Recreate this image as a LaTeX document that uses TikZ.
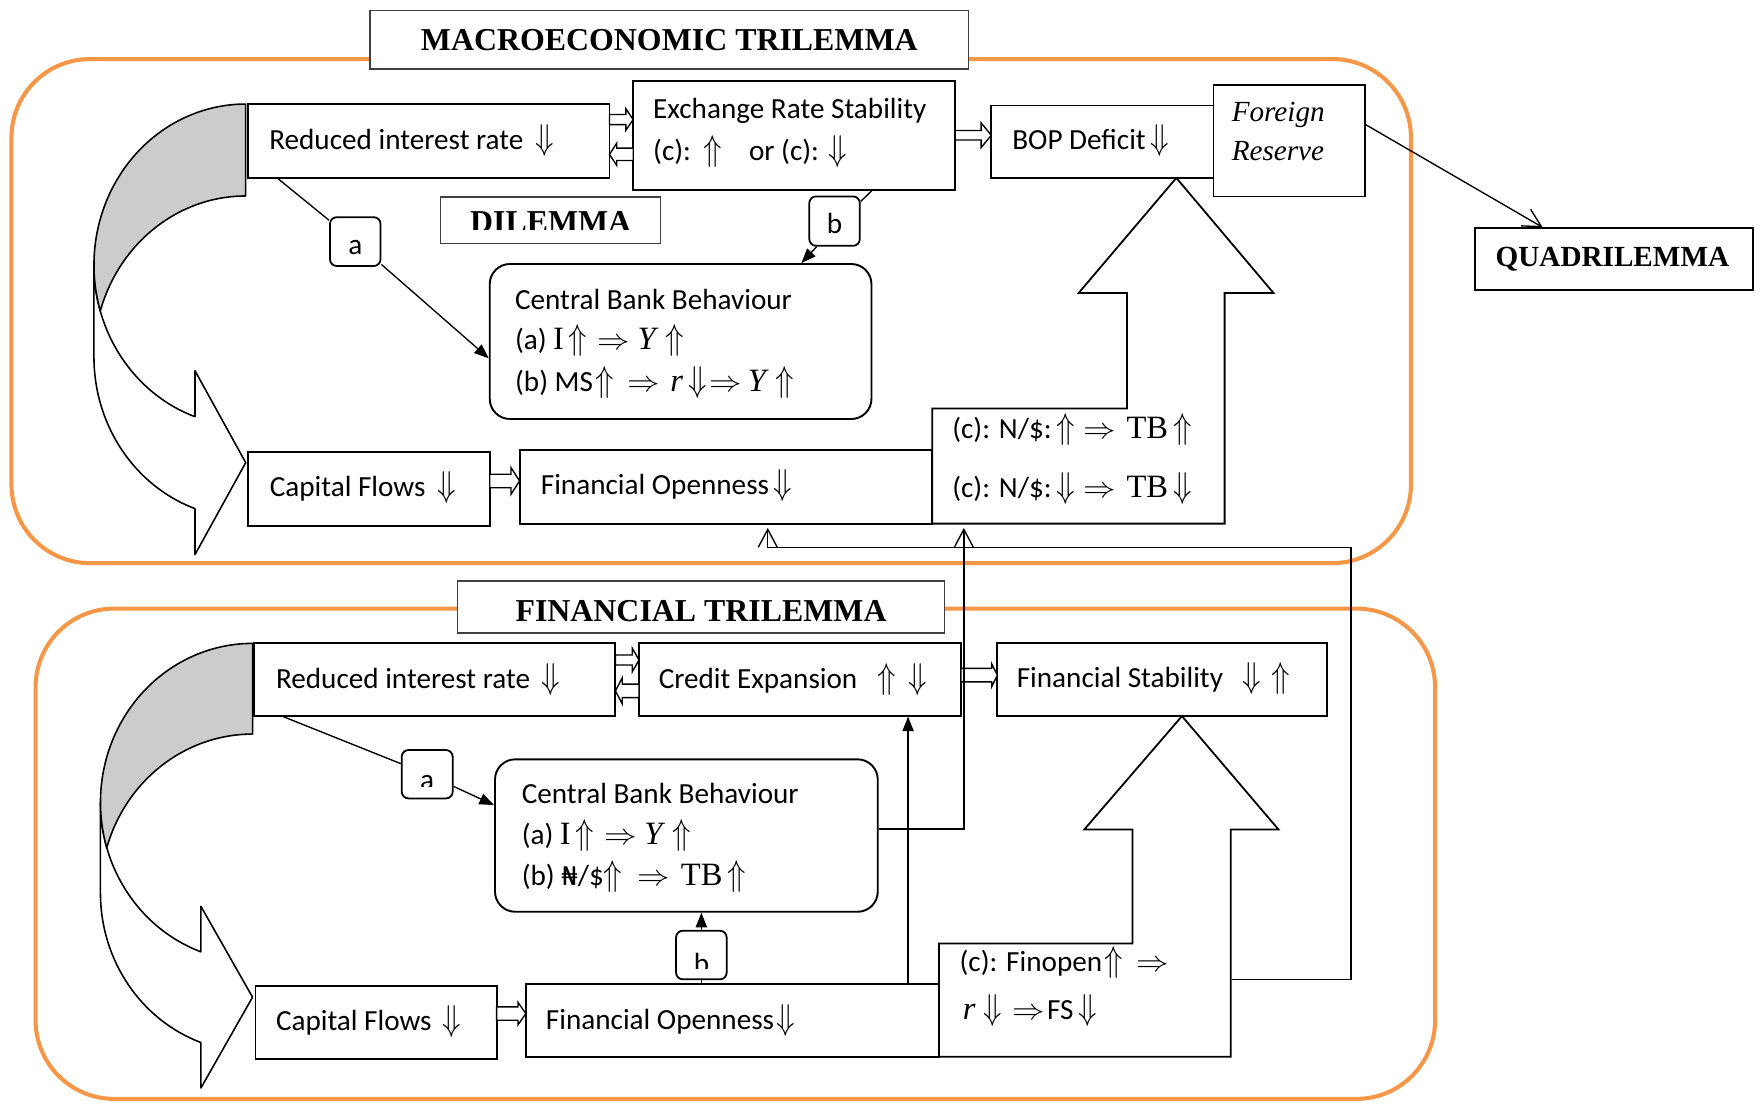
\RequirePackage{fix-cm}
\documentclass[tikz,border=0pt]{standalone}
\usepackage{fontspec}
\setmainfont{Carlito}
\newfontfamily\tnr{Liberation Serif}
\newfontfamily\djv{DejaVu Sans}[Scale=0.88]
\usetikzlibrary{arrows.meta,calc}
\definecolor{frameorange}{HTML}{F79646}
\definecolor{titlegray}{HTML}{404040}
\definecolor{ribgray}{HTML}{CCCCCC}
\newcommand\ttimes[1]{{\fontsize{14.5}{17}\selectfont\tnr #1}}
\newcommand\ttimesi[1]{{\fontsize{14.5}{17}\selectfont\tnr\itshape #1}}
\newcommand\Ua{{\fontsize{10}{12}\selectfont\scalebox{1.35}[1.6]{$\Uparrow$}}}
\newcommand\Da{{\fontsize{10}{12}\selectfont\scalebox{1.35}[1.6]{$\Downarrow$}}}
\newcommand\Ra{{\fontsize{10}{12}\selectfont\scalebox{1.45}[1.3]{$\Rightarrow$}}}
\newcommand\boxnode[6][]{%
  \pgfmathsetmacro\bxW{(#5-#3)*0.5}%
  \pgfmathsetmacro\bxH{(#6-#4)*0.5}%
  \pgfmathsetmacro\bxX{(#3+#5)/2}%
  \pgfmathsetmacro\bxY{(#4+#6)/2}%
  \node[bxs, minimum width=\bxW pt, minimum height=\bxH pt, #1] (#2) at (\bxX,\bxY) {};%
}
\newcommand\barR[6]{%
  \draw[blk] (#1,{#3-#4}) -- ({#2-#6},{#3-#4}) -- ({#2-#6},{#3-#5}) -- (#2,#3) -- ({#2-#6},{#3+#5}) -- ({#2-#6},{#3+#4}) -- (#1,{#3+#4}) -- cycle;}
\newcommand\barL[6]{%
  \draw[blk] (#2,{#3-#4}) -- ({#1+#6},{#3-#4}) -- ({#1+#6},{#3-#5}) -- (#1,#3) -- ({#1+#6},{#3+#5}) -- ({#1+#6},{#3+#4}) -- (#2,{#3+#4}) -- cycle;}
\newcommand\ribbon[7]{%
  \pgfmathsetmacro\rbL{#1-#3}%
  \pgfmathsetmacro\rbA{#2+#4}%
  \pgfmathsetmacro\rbB{#2+#4+#5}%
  \pgfmathsetmacro\rbG{acos(#6/#3)}%
  \pgfmathsetmacro\rbE{180-\rbG}%
  \pgfmathsetmacro\rbAl{asin(#5/(2*#4))}%
  \pgfmathsetmacro\rbX{#1-#6}%
  \pgfmathsetmacro\rbIn{\rbA+#4*sin(\rbG)}%
  \pgfmathsetmacro\rbOut{\rbB+#4*sin(\rbG)}%
  \pgfmathsetmacro\rbM{(\rbIn+\rbOut)/2}%
  \pgfmathsetmacro\rbP{\rbIn-#7}%
  \pgfmathsetmacro\rbQ{\rbOut+#7}%
  \pgfmathsetmacro\rbS{180-\rbAl}%
  \pgfmathsetmacro\rbT{180+\rbAl}%
  \draw[rib, fill=white] (\rbL,\rbA) arc[start angle=180, end angle=\rbE, x radius=#3, y radius=#4]
    -- (\rbX,\rbP) -- (#1,\rbM) -- (\rbX,\rbQ) -- (\rbX,\rbOut)
    arc[start angle=\rbE, end angle=180, x radius=#3, y radius=#4] -- cycle;
  \draw[rib, fill=ribgray] (#1,#2) arc[start angle=270, end angle=\rbS, x radius=#3, y radius=#4]
    arc[start angle=\rbT, end angle=270, x radius=#3, y radius=#4] -- cycle;
}
\tikzset{
  bxs/.style={draw=black, line width=0.85pt, fill=white, inner sep=0pt, rectangle},
  ttlbox/.style={draw=titlegray, line width=0.7pt},
  lbl/.style={line width=0.8pt, rounded corners=3pt},
  rbx/.style={rounded corners=9pt},
  frbox/.style={line width=0.6pt},
  txt/.style={inner sep=0pt, anchor=base west, font=\fontsize{13}{15.6}\selectfont},
  ttl/.style={inner sep=0pt, anchor=base, font=\fontsize{14.2}{17}\selectfont\tnr\bfseries},
  conn/.style={draw=black, line width=0.6pt},
  tri/.style={-{Triangle[length=6.5pt,width=5pt]}},
  barb/.style={-{Straight Barb[length=8pt,width=8.5pt]}},
  shp/.style={draw=black, line width=0.8pt, fill=white, line join=miter},
  blk/.style={draw=black, line width=0.6pt, fill=white, line join=miter},
  orframe/.style={draw=frameorange, line width=1.8pt, rounded corners=35pt},
  rib/.style={draw=black, line width=0.7pt, line join=round},
}
\begin{document}
\begin{tikzpicture}[x=0.5pt, y=-0.5pt]
\useasboundingbox (0,0) rectangle (1568,983);
% frames
\draw[orframe] (10.2,52.6) rectangle (1257,501.7);
\draw[orframe] (31.7,542.2) rectangle (1278.5,979);
% titles
\boxnode[ttlbox]{TM}{329.5}{9.5}{863}{61.5}
\node[ttl] (tTM) at (596.3,45.2) {MACROECONOMIC TRILEMMA};
\boxnode[ttlbox]{TF}{407.6}{517.4}{841.6}{563.7}
\node[ttl] (tTF) at (624.6,553.3) {FINANCIAL TRILEMMA};
% curved arrows
\ribbon{218.9}{92.7}{135.2}{143.4}{81.9}{45.2}{41}
\ribbon{225}{573.2}{135.5}{141.6}{80.8}{46}{40.5}
% big up arrows with (c) boxes
\draw[shp] (830.5,364) -- (1004,364) -- (1004,261) -- (961,261) -- (1048,158.5) -- (1134.5,261) -- (1091,261) -- (1091,466.5) -- (830.5,466.5) -- cycle;
\draw[shp] (836.5,840.5) -- (1009,840.5) -- (1009,739) -- (966,739) -- (1053,638) -- (1139,739) -- (1096.5,739) -- (1096.5,941.5) -- (836.5,941.5) -- cycle;
% top boxes
\boxnode{R1}{221.3}{93}{543}{158.3}
\boxnode{E1}{564.1}{71.9}{850.9}{169}
\boxnode{B1}{883.1}{94}{1081.2}{158.3}
\boxnode[frbox]{FR}{1081.2}{75.7}{1216}{175.2}
\boxnode{Q}{1314}{203.4}{1562}{258.4}
\boxnode[ttlbox]{DL}{392.6}{175.5}{588.6}{217}
\boxnode[lbl]{a1}{294}{193.5}{339}{237}
\boxnode[lbl]{b1}{721}{175}{766}{219}
\boxnode[rbx]{CB1}{436.3}{235.2}{776.4}{373.3}
\boxnode{CF1}{221.3}{402.4}{436.3}{468.6}
\boxnode{FO1}{462.9}{400.9}{830.5}{466.5}
\boxnode[draw=none,fill=none]{c1}{830.5}{364}{1091}{466.5}
% bottom boxes
\boxnode{R2}{226.6}{573.2}{548.3}{637.6}
\boxnode{CE}{569.3}{573.2}{856.2}{637.6}
\boxnode{FS}{888.6}{573.2}{1182.1}{637.6}
\boxnode[lbl]{a2}{357.9}{668.2}{403.3}{711.3}
\boxnode[rbx]{CB2}{441}{676.5}{782}{812.3}
\boxnode[lbl]{b2}{602.3}{829.2}{647.4}{872.5}
\boxnode{CF2}{227.6}{878.5}{442.4}{943.8}
\boxnode{FO2}{468.5}{877}{836.5}{941.5}
\boxnode[draw=none,fill=none]{c2}{836.5}{840.5}{1096.5}{941.5}
% block arrows
\barR{543}{564.1}{106.5}{4.5}{9.5}{6.5}
\barL{543}{564.1}{137.5}{5.5}{10}{6.5}
\barR{850.9}{883.1}{120.5}{4.2}{11}{9}
\barR{436.3}{462.9}{428.5}{6}{12}{7.7}
\barR{548.3}{569.3}{588}{4.5}{10.5}{6}
\barL{548.3}{569.3}{615.5}{6}{11.5}{6}
\barR{856.2}{888.6}{601.5}{6}{10}{5}
\barR{442.4}{468.5}{903}{6}{10}{7}
% connectors
\draw[conn] ($(R1.south west)+(27.2,0)$) -- (a1);
\draw[conn,tri] (a1) -- (CB1.185);
\draw[conn] ($(E1.south east)+(-75,0)$) -- (b1.37);
\draw[conn,tri] (b1.235) -- (CB1.33);
\draw[conn,barb] (FR.12.5) -- (Q.156);
\draw[conn] ($(R2.south west)+(26.5,0)$) -- (a2);
\draw[conn,tri] (a2) -- (CB2.171);
\draw[conn] (b2.south) -- (b2.south |- FO2.north);
\draw[conn,tri] (b2.north) -- (b2.north |- CB2.south);
\coordinate (xce) at (809,0);
\draw[conn,tri] (FO2.north -| xce) -- (CE.south -| xce);
\coordinate (xcb) at (858.7,0);
\draw[conn,barb,shorten >=1.5pt] (CB2.2.15) -| (c1.south -| xcb);
\coordinate (kr) at (1203.5,488);
\coordinate (xfo) at (684,0);
\draw[conn,barb,shorten >=1.5pt] (c2.8.5) -| (kr) -| (FO1.south -| xfo);
% top texts
\node[txt] (tR1) at (239.5,132.8) {Reduced interest rate\hspace{5.3pt}\Da};
\node[txt] (tE1a) at (581.5,105.4) {Exchange Rate Stability};
\node[txt] (tE1b) at (581.5,143.2) {(c):\hspace{5.6pt}\Ua\hspace{12pt}or (c):\hspace{4.3pt}\Da};
\node[txt] (tB1) at (901.5,133) {BOP Deficit\hspace{2.1pt}\Da};
\node[txt, font=\fontsize{13}{15}\selectfont\tnr\itshape] (tFR1) at (1097,108.4) {Foreign};
\node[txt, font=\fontsize{13}{15}\selectfont\tnr\itshape] (tFR2) at (1097,142.6) {Reserve};
\node[ttl, font=\fontsize{13}{15}\selectfont\tnr\bfseries] (tQ) at (1436.5,237.6) {QUADRILEMMA};
\begin{scope}
  \clip (392.6,175.5) rectangle (588.6,204.5);
  \node[ttl] (tDL) at (490.6,207.5) {DILEMMA};
\end{scope}
\node[txt, anchor=base] (ta1) at (316.5,227) {a};
\node[txt, anchor=base] (tb1) at (743.5,208) {b};
\node[txt] (tC1a) at (458.5,275.5) {Central Bank Behaviour};
\node[txt] (tC1b) at (458.5,311.5) {(a)\hspace{2.8pt}\ttimes{I}\hspace{2.2pt}\Ua\hspace{4.6pt}\Ra\hspace{3.3pt}\ttimesi{Y}\hspace{4.3pt}\Ua};
\node[txt] (tC1c) at (458.5,348.5) {(b) MS\hspace{0.9pt}\Ua\hspace{6.1pt}\Ra\hspace{4.7pt}\ttimesi{r}\hspace{2.5pt}\Da\hspace{1.1pt}\Ra\hspace{2.5pt}\ttimesi{Y}\hspace{4.3pt}\Ua};
\node[txt] (tc1a) at (848,390.5) {(c): N/\$:\hspace{2pt}\Ua\hspace{4.1pt}\Ra\hspace{4.5pt}\ttimes{TB}\hspace{2.5pt}\Ua};
\node[txt] (tc1b) at (848,443.5) {(c): N/\$:\hspace{2pt}\Da\hspace{4.1pt}\Ra\hspace{4.5pt}\ttimes{TB}\hspace{2.5pt}\Da};
\node[txt] (tCF1) at (240,442.5) {Capital Flows\hspace{5.2pt}\Da};
\node[txt] (tFO1) at (481.5,441) {Financial Openness\hspace{2.1pt}\Da};
% bottom texts
\node[txt] (tR2) at (245.5,613.3) {Reduced interest rate\hspace{4.9pt}\Da};
\node[txt] (tCE) at (586.5,613.3) {Credit Expansion\hspace{9pt}\Ua\hspace{5.7pt}\Da};
\node[txt] (tFS) at (905.5,612.7) {Financial Stability\hspace{8.7pt}\Da\hspace{4.7pt}\Ua};
\begin{scope}
  \clip (357.9,668.2) rectangle (403.3,700.5);
  \node[txt, anchor=base] (ta2) at (380.6,703) {a};
\end{scope}
\begin{scope}
  \clip (602.3,829.2) rectangle (647.4,863);
  \node[txt, anchor=base] (tb2) at (624.9,867.5) {b};
\end{scope}
\node[txt] (tC2a) at (464.5,715.5) {Central Bank Behaviour};
\node[txt] (tC2b) at (464.5,752) {(a)\hspace{2.8pt}\ttimes{I}\hspace{2.2pt}\Ua\hspace{4.6pt}\Ra\hspace{3.3pt}\ttimesi{Y}\hspace{4.3pt}\Ua};
\node[txt] (tC2c) at (464.5,789) {(b) {\djv ₦}/\$\Ua\hspace{6.6pt}\Ra\hspace{5pt}\ttimes{TB}\hspace{2pt}\Ua};
\node[txt] (tc2a) at (854.5,865.7) {(c): Finopen\hspace{1pt}\Ua\hspace{5.8pt}\Ra};
\node[txt] (tc2b) at (857.5,908.5) {\ttimesi{r}\hspace{3.6pt}\Da\hspace{4.7pt}\Ra\hspace{0.8pt}FS\hspace{2.3pt}\Da};
\node[txt] (tCF2) at (245.5,917.7) {Capital Flows\hspace{5pt}\Da};
\node[txt] (tFO2) at (486,917) {Financial Openness\hspace{1pt}\Da};
\end{tikzpicture}
\end{document}
